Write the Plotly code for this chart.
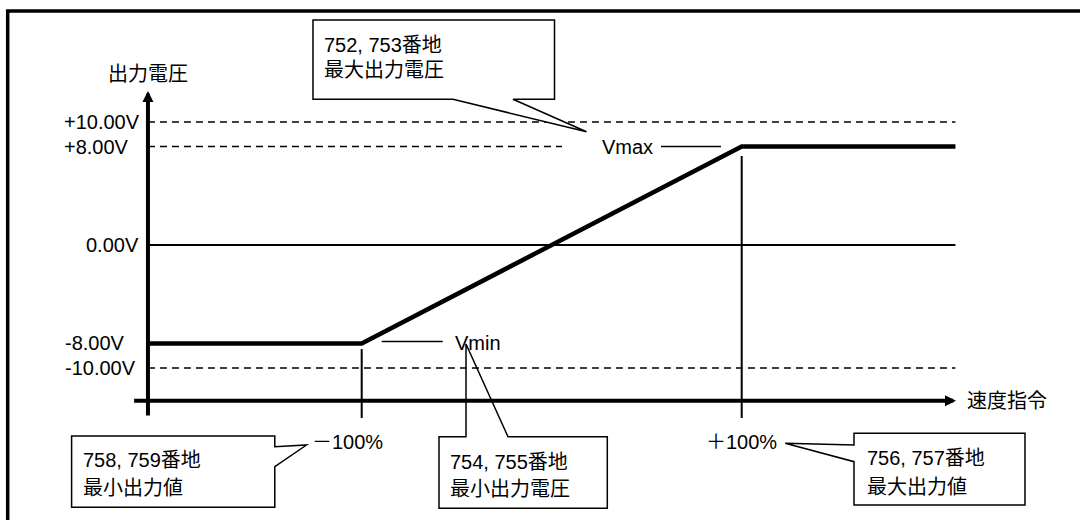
import plotly.graph_objects as go

W, H = 1080, 520
OFF = 0  # page body margin removed via post_script

# ---------------- data ----------------
speed_cmd_pct = [-212.5, -100, 100, 212.5]          # speed command (%) at output-curve corners
output_voltage = [-8.0, -8.0, 8.0, 8.0]             # output voltage (V)
ref_levels_v = [10.0, 8.0, 0.0, -8.0, -10.0]        # labelled voltage levels
ref_labels = ["+10.00V", "+8.00V", "0.00V", "-8.00V", "-10.00V"]
speed_ticks_pct = [-100, 100]
speed_tick_labels = ["－100%", "＋100%"]
y_axis_title = "出力電圧"
x_axis_title = "速度指令"
callout_texts = [
    ("752, 753番地", "最大出力電圧"),
    ("758, 759番地", "最小出力値"),
    ("754, 755番地", "最小出力電圧"),
    ("756, 757番地", "最大出力値"),
]

# ---------------- scale (screen pixel <-> data) ----------------
X0_PX, X_PER_PCT = 551.7, 1.9
Y0_PX, Y_PER_V = 245.0, 12.3


def px2x(px):
    return (px - X0_PX) / X_PER_PCT


def py2y(py):
    return (Y0_PX - py) / Y_PER_V


def P(x, y):
    return (x - OFF) / W, 1 - (y - OFF) / H


FONT = dict(family="Liberation Sans, Arial, Noto Sans CJK JP", size=20, color="black")

x_left, x_right = speed_cmd_pct[0], speed_cmd_pct[-1]
y_axis_bottom, y_axis_top = py2y(417), py2y(91)
x_axis_level = py2y(400.7)
x_axis_start, x_axis_tip = px2x(132.6), px2x(956)

fig = go.Figure()

# dashed limit lines
for lvl, xe in [(ref_levels_v[0], x_right), (ref_levels_v[1], px2x(562)), (ref_levels_v[4], x_right)]:
    fig.add_trace(go.Scatter(x=[x_left, xe], y=[lvl, lvl], mode="lines",
                             line=dict(color="black", width=1.5, dash="7px,5px"),
                             hoverinfo="skip"))
# zero line
fig.add_trace(go.Scatter(x=[x_left, x_right], y=[ref_levels_v[2]] * 2, mode="lines",
                         line=dict(color="black", width=2), hoverinfo="skip"))
# tick lines at +-100%
tick_tops = [output_voltage[1] - 0.46, output_voltage[2] - 0.76]
for xt, yt in zip(speed_ticks_pct, tick_tops):
    fig.add_trace(go.Scatter(x=[xt, xt], y=[yt, py2y(418)], mode="lines",
                             line=dict(color="black", width=2), hoverinfo="skip"))
# output curve
fig.add_trace(go.Scatter(x=speed_cmd_pct, y=output_voltage, mode="lines",
                         line=dict(color="black", width=4.5), hoverinfo="skip"))

annotations = []
shapes = []

# axes with arrow heads
annotations.append(dict(x=x_left, y=y_axis_top, ax=x_left, ay=y_axis_bottom,
                        xref="x", yref="y", axref="x", ayref="y", text="",
                        showarrow=True, arrowhead=2, arrowwidth=4, arrowsize=0.55,
                        arrowcolor="black"))
annotations.append(dict(x=x_axis_tip, y=x_axis_level, ax=x_axis_start, ay=x_axis_level,
                        xref="x", yref="y", axref="x", ayref="y", text="",
                        showarrow=True, arrowhead=2, arrowwidth=4, arrowsize=0.55,
                        arrowcolor="black"))

# voltage labels
label_centers_px = [101.5, 96, 112, 94.7, 100.7]
for lvl, txt, cx in zip(ref_levels_v, ref_labels, label_centers_px):
    annotations.append(dict(x=px2x(cx), y=lvl, text=txt, showarrow=False,
                            xanchor="center", yanchor="middle", font=FONT))

# axis titles
annotations.append(dict(x=x_left, y=py2y(74), text=y_axis_title, showarrow=False,
                        xanchor="center", yanchor="middle", font=FONT))
annotations.append(dict(x=px2x(965), y=x_axis_level, text=x_axis_title, showarrow=False,
                        xanchor="left", yanchor="middle", font=FONT))

# speed tick labels
for xt, txt, lx in zip(speed_ticks_pct, speed_tick_labels, [310, 703.6]):
    annotations.append(dict(x=px2x(lx), y=py2y(442), text=txt, showarrow=False,
                            xanchor="left", yanchor="middle", font=FONT))

# Vmax / Vmin labels and leader lines
annotations.append(dict(x=px2x(600), y=output_voltage[2], text="Vmax", showarrow=False,
                        xanchor="left", yanchor="middle", font=FONT))
annotations.append(dict(x=px2x(452.7), y=output_voltage[1], text="Vmin", showarrow=False,
                        xanchor="left", yanchor="middle", font=FONT))
shapes.append(dict(type="line", xref="x", yref="y", x0=px2x(661), x1=px2x(721),
                   y0=output_voltage[2], y1=output_voltage[2], line=dict(color="black", width=1.5)))
shapes.append(dict(type="line", xref="x", yref="y", x0=px2x(381.7), x1=px2x(442.7),
                   y0=py2y(341.5), y1=py2y(341.5), line=dict(color="black", width=1.5)))


def path(points):
    s = ""
    for i, (x, y) in enumerate(points):
        px, py = P(x, y)
        s += ("M" if i == 0 else "L") + f"{px:.5f},{py:.5f} "
    return s + "Z"


callout_polys = [
    ([(313, 20), (554.5, 20), (554.5, 99.3), (513, 99.3), (586.5, 131.7), (453, 99.3), (313, 99.3)], "white"),
    ([(71.6, 436), (274.8, 436), (274.8, 446.7), (306.5, 445), (274.8, 466.7), (274.8, 507.3), (71.6, 507.3)], "white"),
    ([(439, 436.7), (466, 436.7), (466, 344), (508, 436.7), (607.3, 436.7), (607.3, 508.3), (439, 508.3)], "rgba(0,0,0,0)"),
    ([(854, 433.3), (1025, 433.3), (1025, 505), (854, 505), (854, 461.7), (785.2, 443.3), (854, 445)], "white"),
]
for pts, fc in callout_polys:
    shapes.append(dict(type="path", xref="paper", yref="paper", path=path(pts),
                       fillcolor=fc, line=dict(color="black", width=1.5), layer="above"))

callout_text_pos = [(322, 45, 70), (81, 460, 488), (448.3, 461.7, 489.3), (865, 458, 486.7)]
for (l1, l2), (tx, ty1, ty2) in zip(callout_texts, callout_text_pos):
    for t, ty in [(l1, ty1), (l2, ty2)]:
        ax_, ay_ = P(tx, ty)
        annotations.append(dict(x=ax_, y=ay_, xref="paper", yref="paper", text=t,
                                showarrow=False, xanchor="left", yanchor="middle", font=FONT))

# outer frame
fx0, fy1 = P(7.7, 10.9)
fx1, fy0 = P(1100, 540)
shapes.append(dict(type="rect", xref="paper", yref="paper", x0=fx0, x1=fx1, y0=fy0, y1=fy1,
                   line=dict(color="black", width=3.5), fillcolor="rgba(0,0,0,0)", layer="above"))

fig.update_layout(
    width=W, height=H,
    margin=dict(l=0, r=0, t=0, b=0),
    paper_bgcolor="white", plot_bgcolor="rgba(0,0,0,0)",
    showlegend=False,
    xaxis=dict(range=[px2x(OFF), px2x(W + OFF)], visible=False, fixedrange=True),
    yaxis=dict(range=[py2y(H + OFF), py2y(OFF)], visible=False, fixedrange=True),
    shapes=shapes,
    annotations=annotations,
)

fig.write_html("out.html", config={"displayModeBar": False},
               post_script="document.body.style.margin='0';document.body.style.overflow='hidden';")
